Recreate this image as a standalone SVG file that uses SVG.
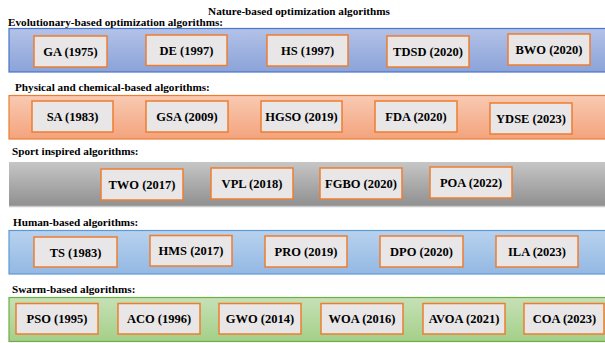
<svg xmlns="http://www.w3.org/2000/svg" width="605" height="343" viewBox="0 0 605 343">
<defs>
<linearGradient id="gBlue" x1="0" y1="0" x2="0" y2="1"><stop offset="0" stop-color="#b3c2e7"/><stop offset="1" stop-color="#8ba3d9"/></linearGradient>
<linearGradient id="gOrange" x1="0" y1="0" x2="0" y2="1"><stop offset="0" stop-color="#f8cab3"/><stop offset="1" stop-color="#f4a37c"/></linearGradient>
<linearGradient id="gGray" x1="0" y1="0" x2="0" y2="1"><stop offset="0" stop-color="#c6c6c6"/><stop offset="1" stop-color="#8f8f8f"/></linearGradient>
<linearGradient id="gLBlue" x1="0" y1="0" x2="0" y2="1"><stop offset="0" stop-color="#b8d2ee"/><stop offset="1" stop-color="#93b8e3"/></linearGradient>
<linearGradient id="gGreen" x1="0" y1="0" x2="0" y2="1"><stop offset="0" stop-color="#c6e1b6"/><stop offset="1" stop-color="#a4cf88"/></linearGradient>
</defs>
<style>
text{font-family:"Liberation Serif","Times New Roman",serif;font-weight:bold;fill:#000}
.title{font-size:11.2px;text-anchor:middle}
.lbl{font-size:11.2px}
.bt{font-size:12.5px;text-anchor:middle}
.box{fill:#e8e6e6;stroke:#ed7d31;stroke-width:1.5}
</style>
<text class="title" x="299" y="15">Nature-based optimization algorithms</text>

<g id="band-evolutionary">
<text class="lbl" x="8" y="26">Evolutionary-based optimization algorithms:</text>
<rect x="9" y="28.5" width="597" height="43.5" fill="url(#gBlue)" stroke="#4a74c6" stroke-width="1.2"/>
</g>
<g id="GA"><rect class="box" x="34" y="36" width="73" height="31"/><text class="bt" x="70.5" y="56">GA (1975)</text></g>
<g id="DE"><rect class="box" x="146" y="35" width="81" height="30.5"/><text class="bt" x="186.5" y="55">DE (1997)</text></g>
<g id="HS"><rect class="box" x="267" y="35" width="81" height="31"/><text class="bt" x="307.5" y="55">HS (1997)</text></g>
<g id="TDSD"><rect class="box" x="387" y="36" width="82" height="31"/><text class="bt" x="428" y="56">TDSD (2020)</text></g>
<g id="BWO"><rect class="box" x="508" y="34" width="82" height="31"/><text class="bt" x="549" y="54">BWO (2020)</text></g>

<g id="band-physical">
<text class="lbl" x="15" y="90.5">Physical and chemical-based algorithms:</text>
<rect x="9" y="95.5" width="597" height="43.5" fill="url(#gOrange)" stroke="#ed7d31" stroke-width="1.2"/>
</g>
<g id="SA"><rect class="box" x="32" y="101" width="81" height="31"/><text class="bt" x="72.5" y="121">SA (1983)</text></g>
<g id="GSA"><rect class="box" x="146" y="101" width="82" height="31"/><text class="bt" x="187" y="121">GSA (2009)</text></g>
<g id="HGSO"><rect class="box" x="261" y="101" width="81" height="31"/><text class="bt" x="301.5" y="121">HGSO (2019)</text></g>
<g id="FDA"><rect class="box" x="375" y="101" width="82" height="31"/><text class="bt" x="416" y="121">FDA (2020)</text></g>
<g id="YDSE"><rect class="box" x="490" y="103" width="82" height="31"/><text class="bt" x="531" y="123">YDSE (2023)</text></g>

<g id="band-sport">
<text class="lbl" x="12" y="154.5">Sport inspired algorithms:</text>
<rect x="9" y="162" width="597" height="44.5" fill="url(#gGray)"/>
<line x1="9" y1="206.5" x2="605" y2="206.5" stroke="#c9c9c9" stroke-width="1.5"/>
</g>
<g id="TWO"><rect class="box" x="101" y="169" width="82" height="31"/><text class="bt" x="142" y="189">TWO (2017)</text></g>
<g id="VPL"><rect class="box" x="211" y="168" width="82" height="31"/><text class="bt" x="252" y="188">VPL (2018)</text></g>
<g id="FGBO"><rect class="box" x="320" y="168" width="82" height="31"/><text class="bt" x="361" y="188">FGBO (2020)</text></g>
<g id="POA"><rect class="box" x="430" y="167" width="82" height="31"/><text class="bt" x="471" y="187">POA (2022)</text></g>

<g id="band-human">
<text class="lbl" x="13" y="225.5">Human-based algorithms:</text>
<rect x="9" y="230.5" width="597" height="43.5" fill="url(#gLBlue)" stroke="#5b9bd5" stroke-width="1.2"/>
</g>
<g id="TS"><rect class="box" x="34" y="237" width="83" height="30"/><text class="bt" x="75.5" y="256.5">TS (1983)</text></g>
<g id="HMS"><rect class="box" x="150" y="235.5" width="82" height="30.5"/><text class="bt" x="191" y="255">HMS (2017)</text></g>
<g id="PRO"><rect class="box" x="265" y="236" width="82" height="31"/><text class="bt" x="306" y="256">PRO (2019)</text></g>
<g id="DPO"><rect class="box" x="380" y="236" width="83" height="31"/><text class="bt" x="421.5" y="256">DPO (2020)</text></g>
<g id="ILA"><rect class="box" x="496" y="236" width="82" height="31"/><text class="bt" x="537" y="256">ILA (2023)</text></g>

<g id="band-swarm">
<text class="lbl" x="12" y="293">Swarm-based algorithms:</text>
<rect x="9" y="297.5" width="597" height="44" fill="url(#gGreen)" stroke="#70ad47" stroke-width="1.2"/>
</g>
<g id="PSO"><rect class="box" x="16" y="303.5" width="82" height="30.5"/><text class="bt" x="57" y="323">PSO (1995)</text></g>
<g id="ACO"><rect class="box" x="118" y="303.5" width="82" height="30.5"/><text class="bt" x="159" y="323">ACO (1996)</text></g>
<g id="GWO"><rect class="box" x="219" y="303.5" width="82" height="30.5"/><text class="bt" x="260" y="323">GWO (2014)</text></g>
<g id="WOA"><rect class="box" x="321" y="303.5" width="82" height="30.5"/><text class="bt" x="362" y="323">WOA (2016)</text></g>
<g id="AVOA"><rect class="box" x="423" y="303.5" width="82" height="30.5"/><text class="bt" x="464" y="323">AVOA (2021)</text></g>
<g id="COA"><rect class="box" x="524" y="303.5" width="80" height="30.5"/><text class="bt" x="564.5" y="323">COA (2023)</text></g>

<g id="connectors"/>
</svg>
